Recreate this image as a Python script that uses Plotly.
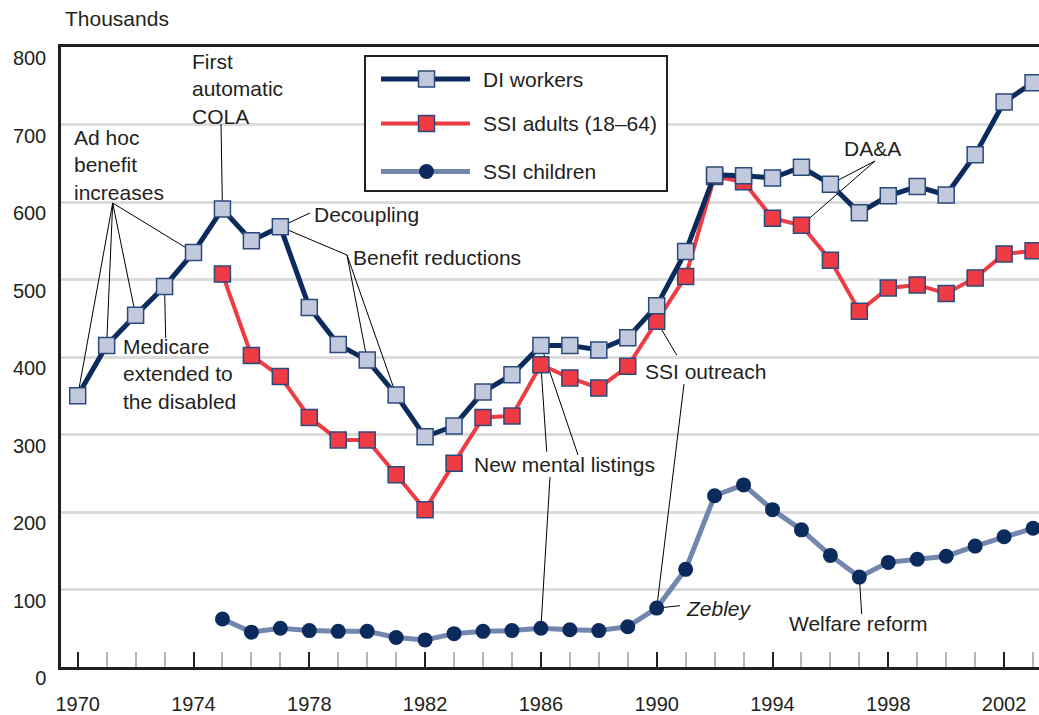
import plotly.graph_objects as go

# ---------------- data ----------------
years = list(range(1970, 2004))
di_workers = [350, 415, 454, 491, 535, 591, 550, 568, 464, 416,
              396, 351, 297, 311, 355, 377, 415, 415, 409, 425,
              466, 536, 635, 634, 631, 645, 623, 586, 608, 620,
              609, 661, 729, 754]
ssi_years = list(range(1975, 2004))
ssi_adults = [507, 402, 375, 322, 293, 293, 248, 203, 263, 322,
              324, 390, 373, 360, 388, 446, 504, 633, 626, 579,
              570, 525, 459, 489, 493, 482, 502, 533, 537]
ssi_children = [62, 45, 50, 47, 46, 46, 38, 35, 43, 46,
                47, 50, 48, 47, 52, 76, 126, 221, 235, 203,
                177, 144, 116, 135, 139, 143, 156, 168, 179]
series_names = ["DI workers", "SSI adults (18\u201364)", "SSI children"]
y_ticks = [0, 100, 200, 300, 400, 500, 600, 700, 800]
x_ticks = list(range(1970, 2003, 4))

# ---------------- styling ----------------
FONT = "Liberation Sans, Arial, Helvetica, sans-serif"
TXT = "#231f20"
NAVY = "#0b2b5c"
DI_FILL = "#c3c9dc"
MK_EDGE = "#2a4a7c"
RED = "#ee3b44"
STEEL = "#7386ad"
FS = 21

W, H = 1039, 715
PX_L, PX_R, PY_T, PY_B = 61, 1039, 47, 667
PX_1970, PX_PER_YEAR = 77.7, 28.95
PX_PER_UNIT = (PY_B - PY_T) / 800.0


def xd(px):
    return 1970 + (px - PX_1970) / PX_PER_YEAR


def yd(py):
    return (PY_B - py) / PX_PER_UNIT


def pt(xs, ys, yr):
    return yr, ys[xs.index(yr)]


fig = go.Figure()

fig.add_trace(go.Scatter(
    x=ssi_years, y=ssi_children, mode="lines+markers", name=series_names[2],
    line=dict(color=STEEL, width=5),
    marker=dict(symbol="circle", size=15, color=NAVY, line=dict(width=0)),
    showlegend=False, cliponaxis=False))
fig.add_trace(go.Scatter(
    x=ssi_years, y=ssi_adults, mode="lines+markers", name=series_names[1],
    line=dict(color=RED, width=4),
    marker=dict(symbol="square", size=16, color=RED, line=dict(width=1.5, color=MK_EDGE)),
    showlegend=False, cliponaxis=False))
fig.add_trace(go.Scatter(
    x=years, y=di_workers, mode="lines+markers", name=series_names[0],
    line=dict(color=NAVY, width=5),
    marker=dict(symbol="square", size=16, color=DI_FILL, line=dict(width=1.5, color=MK_EDGE)),
    showlegend=False, cliponaxis=False))

shapes = []
annotations = []


def leader(px, py, target):
    shapes.append(dict(type="line", xref="x", yref="y", layer="between",
                       x0=xd(px), y0=yd(py), x1=target[0], y1=target[1],
                       line=dict(color="#000000", width=1)))


def label(px, py, text, italic=False):
    annotations.append(dict(x=xd(px), y=yd(py), xref="x", yref="y", text=text,
                            showarrow=False, xanchor="left", yanchor="middle", align="left",
                            borderpad=0,
                            font=dict(family=FONT, size=FS, color=TXT,
                                      style="italic" if italic else "normal")))


DI = lambda yr: pt(years, di_workers, yr)
AD = lambda yr: pt(ssi_years, ssi_adults, yr)
CH = lambda yr: pt(ssi_years, ssi_children, yr)

# Ad hoc benefit increases
label(73, 165, "Ad hoc<br>benefit<br>increases")
for yr in (1970, 1971, 1972, 1974):
    leader(112.7, 203, DI(yr))
# First automatic COLA
label(191, 89, "First<br>automatic<br>COLA")
leader(221, 124, DI(1975))
# Decoupling
label(313, 214, "Decoupling")
leader(310, 213, DI(1977))
# Benefit reductions
label(352, 257, "Benefit reductions")
for yr in (1977, 1980, 1981):
    leader(347, 255, DI(yr))
# Medicare
label(122, 374, "Medicare<br>extended to<br>the disabled")
leader(165.7, 338, DI(1973))
# New mental listings
label(473, 464, "New mental listings")
leader(546.7, 451.7, AD(1986))
leader(578, 455, DI(1986))
leader(550, 477, CH(1986))
# SSI outreach
label(644, 371, "SSI outreach")
leader(676.7, 355, AD(1990))
leader(684, 384, CH(1990))
# DA&A
label(843, 148, "DA&amp;A")
leader(875, 161, DI(1996))
leader(875, 161, AD(1995))
# Zebley
label(685, 608, "Zebley", italic=True)
leader(680, 605.7, CH(1990))
# Welfare reform
label(788, 623, "Welfare reform")
leader(861.7, 614, CH(1997))

# Thousands (axis unit, above the plot area -> paper coordinates)
annotations.append(dict(x=(64 - PX_L) / (PX_R - PX_L), y=(PY_B - 19) / (PY_B - PY_T),
                        xref="paper", yref="paper", text="Thousands",
                        showarrow=False, xanchor="left", yanchor="middle", borderpad=0,
                        font=dict(family=FONT, size=FS, color=TXT)))

# ---------------- legend (drawn manually) ----------------
shapes.append(dict(type="rect", xref="x", yref="y", layer="above",
                   x0=xd(365), x1=xd(667), y0=yd(56), y1=yd(191),
                   fillcolor="white", line=dict(color=TXT, width=2)))
rows = [79, 123.5, 171.5]
leg_styles = [
    (NAVY, 5, "square", DI_FILL, MK_EDGE),
    (RED, 4, "square", RED, MK_EDGE),
    (STEEL, 5, "circle", NAVY, NAVY),
]
for (lc, lw, sym, fc, ec), ry, name in zip(leg_styles, rows, series_names):
    shapes.append(dict(type="line", xref="x", yref="y", layer="above",
                       x0=xd(381), x1=xd(470), y0=yd(ry), y1=yd(ry),
                       line=dict(color=lc, width=lw)))
    half = 8 if sym == "square" else 7.5
    shapes.append(dict(type="rect" if sym == "square" else "circle", xref="x", yref="y",
                       layer="above",
                       x0=xd(426.5 - half), x1=xd(426.5 + half),
                       y0=yd(ry - half), y1=yd(ry + half),
                       fillcolor=fc, line=dict(color=ec, width=1.5 if sym == "square" else 0)))
    annotations.append(dict(x=xd(482), y=yd(ry), xref="x", yref="y", text=name,
                            showarrow=False, xanchor="left", yanchor="middle", borderpad=0,
                            font=dict(family=FONT, size=FS, color=TXT)))

fig.update_layout(
    width=W, height=H,
    margin=dict(l=PX_L, r=W - PX_R, t=PY_T, b=H - PY_B, autoexpand=False),
    paper_bgcolor="white", plot_bgcolor="white",
    showlegend=False,
    shapes=shapes, annotations=annotations,
    font=dict(family=FONT, size=20, color=TXT),
)
fig.update_xaxes(
    range=[xd(PX_L), xd(PX_R)], automargin=False,
    tickmode="array", tickvals=x_ticks, ticktext=[str(v) for v in x_ticks],
    ticks="inside", ticklen=15, tickwidth=2, tickcolor=TXT,
    minor=dict(tick0=1970, dtick=1, ticks="inside", ticklen=15, tickwidth=2,
               tickcolor="#b5b5b5", showgrid=False),
    showgrid=False, zeroline=False,
    showline=True, linecolor=TXT, linewidth=2.5, mirror=True,
    ticklabelstandoff=17,
    tickfont=dict(family=FONT, size=20, color=TXT),
)
fig.update_yaxes(
    range=[0, 800], automargin=False,
    tickmode="array", tickvals=y_ticks, ticktext=[str(v) for v in y_ticks],
    ticks="", showgrid=True, gridcolor="#dcdcdc", gridwidth=2.5,
    zeroline=False, showline=True, linecolor=TXT, linewidth=2.5,
    ticklabelstandoff=8, ticklabelshift=11,
    tickfont=dict(family=FONT, size=20, color=TXT),
)

fig.write_html(
    "out.html",
    config={"displayModeBar": False},
    post_script="document.body.style.margin='0';document.body.style.overflow='hidden';",
)
